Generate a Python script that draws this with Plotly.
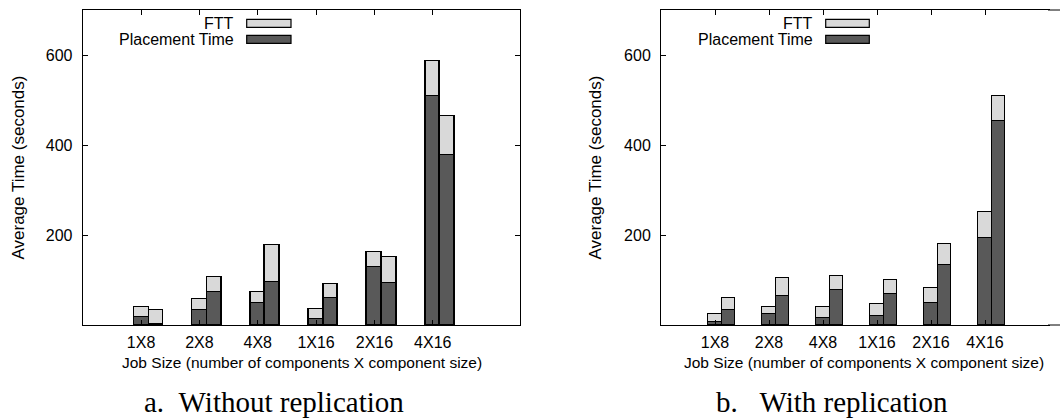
import plotly.graph_objects as go

# Job sizes (number of components X component size)
categories = ["1X8", "2X8", "4X8", "1X16", "2X16", "4X16"]

# a. Without replication
a_place_1 = [17, 33, 48, 13, 128, 510]
a_ftt_1 = [22, 25, 26, 22, 35, 77]
a_place_2 = [2, 73, 96, 61, 93, 378]
a_ftt_2 = [31, 34, 81, 30, 58, 87]

# b. With replication
b_place_1 = [6, 25, 16, 20, 50, 193]
b_ftt_1 = [18, 14, 25, 27, 32, 58]
b_place_2 = [33, 64, 78, 68, 133, 453]
b_ftt_2 = [26, 40, 30, 33, 46, 57]

y_ticks = [200, 400, 600]

LIGHT = "#d9d9d9"
DARK = "#595959"
SANS = "Liberation Sans, Arial, sans-serif"
SERIF = "Liberation Serif, Times New Roman, serif"
BW = 0.25

pos1 = [i + 1 for i in range(len(categories))]
pos2 = [p + BW for p in pos1]

fig = go.Figure()


def add_stack(xs, place, ftt, xa, ya):
    fig.add_trace(go.Bar(x=xs, y=place, width=BW, marker=dict(color=DARK, line=dict(color="black", width=1.2)),
                         xaxis=xa, yaxis=ya, showlegend=False))
    fig.add_trace(go.Bar(x=xs, y=ftt, width=BW, marker=dict(color=LIGHT, line=dict(color="black", width=1.2)),
                         xaxis=xa, yaxis=ya, showlegend=False))


add_stack(pos1, a_place_1, a_ftt_1, "x", "y")
add_stack(pos2, a_place_2, a_ftt_2, "x", "y")
add_stack(pos1, b_place_1, b_ftt_1, "x2", "y2")
add_stack(pos2, b_place_2, b_ftt_2, "x2", "y2")

W, H = 1060, 419
T, B = 10, 94
L_left, L_right = 82.7, 520.3
R_left, R_right = 661.0, 1060.0
unit_b = 54.0
x2_max = (R_right - R_left) / unit_b

tickfont = dict(family=SANS, size=16, color="black")
common_x = dict(tickmode="array", tickvals=pos1, ticktext=categories, ticks="inside", ticklen=5,
                tickcolor="black", linecolor="black", linewidth=1, showline=True,
                showgrid=False, zeroline=False, tickfont=tickfont, ticklabelstandoff=3, fixedrange=True)
common_y = dict(range=[0, 700], tickvals=y_ticks, ticks="inside", ticklen=5, tickcolor="black",
                linecolor="black", linewidth=1, showline=True, showgrid=False, zeroline=False,
                tickfont=tickfont, ticklabelstandoff=6, fixedrange=True)

fig.update_layout(
    width=W, height=H,
    margin=dict(l=0, r=0, t=T, b=B, autoexpand=False),
    paper_bgcolor="white", plot_bgcolor="white",
    barmode="stack", bargap=0,
    xaxis=dict(common_x, domain=[L_left / W, L_right / W], range=[0, 7.5], mirror="ticks"),
    yaxis=dict(common_y, anchor="x", mirror="ticks"),
    xaxis2=dict(common_x, domain=[R_left / W, R_right / W], range=[0, x2_max], anchor="y2", mirror="ticks"),
    yaxis2=dict(common_y, anchor="x2", mirror=False),
)


def px_x(px):
    return px / W


def px_y(py):
    # page pixel row (from top) -> paper y
    return (H - B - py) / (H - B - T)


annotations = []
shapes = []

# the right panel runs off the page edge: keep its right side open,
# then carry its top and bottom edges through to the page border
shapes.append(dict(type="rect", xref="paper", yref="paper", layer="above",
                   x0=px_x(W - 10), x1=1.0, y0=px_y(H - B + 3), y1=px_y(T - 3),
                   fillcolor="white", line=dict(width=0)))
for yy in [T, H - B]:
    shapes.append(dict(type="line", xref="paper", yref="paper", layer="above",
                       x0=px_x(W - 12), x1=1.0, y0=px_y(yy), y1=px_y(yy),
                       line=dict(color="black", width=1)))

for cx in [301.5, 863.5]:
    annotations.append(dict(x=px_x(cx), y=px_y(362), xref="paper", yref="paper",
                            text="Job Size (number of components X component size)", showarrow=False,
                            font=dict(family=SANS, size=15.5, color="black"), xanchor="center", yanchor="middle"))
for cx in [18, 595]:
    annotations.append(dict(x=px_x(cx), y=px_y(167.5), xref="paper", yref="paper",
                            text="Average Time (seconds)", textangle=-90, showarrow=False,
                            font=dict(family=SANS, size=17, color="black"), xanchor="center", yanchor="middle"))
annotations.append(dict(x=px_x(274), y=px_y(402), xref="paper", yref="paper",
                        text="a.\u00a0\u00a0Without replication", showarrow=False,
                        font=dict(family=SERIF, size=29, color="black"), xanchor="center", yanchor="middle"))
annotations.append(dict(x=px_x(832), y=px_y(402), xref="paper", yref="paper",
                        text="b.\u00a0\u00a0\u00a0With replication", showarrow=False,
                        font=dict(family=SERIF, size=29, color="black"), xanchor="center", yanchor="middle"))

# legends: right-aligned labels with the key box to their right
for text_right, box_l, box_r in [(236, 246.7, 291), (815, 825.7, 869.3)]:
    for label, color, yc in [("FTT", LIGHT, 23.3), ("Placement Time", DARK, 39.3)]:
        annotations.append(dict(x=px_x(text_right), y=px_y(yc), xref="paper", yref="paper", text=label,
                                showarrow=False, xanchor="right", yanchor="middle",
                                font=dict(family=SANS, size=16, color="black")))
        shapes.append(dict(type="rect", xref="paper", yref="paper", x0=px_x(box_l), x1=px_x(box_r),
                           y0=px_y(yc + 4), y1=px_y(yc - 4), fillcolor=color,
                           line=dict(color="black", width=1.2)))

fig.update_layout(annotations=annotations, shapes=shapes)

fig.write_html("out.html")
